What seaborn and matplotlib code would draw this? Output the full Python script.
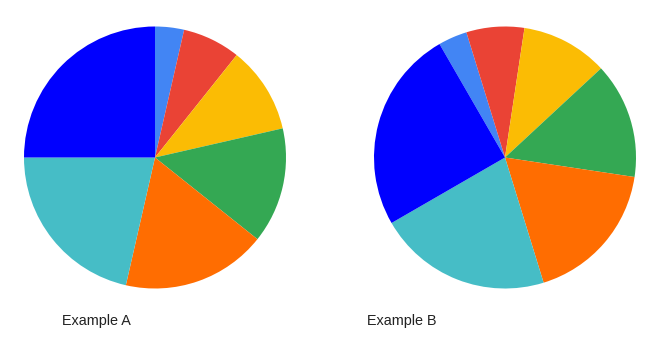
import matplotlib
matplotlib.use("Agg")
import matplotlib.pyplot as plt
import seaborn as sns

sns.set_theme(style="white")
plt.rcParams['font.family'] = ['Liberation Sans', 'DejaVu Sans']

# Data
categories = ["S1", "S2", "S3", "S4", "S5", "S6", "S7"]
values = [1, 2, 3, 4, 5, 6, 7]
colors = ["#4285F4", "#EA4335", "#FBBC04", "#34A853", "#FF6D01", "#46BDC6", "#0000FF"]
titles = ["Example A", "Example B"]
start_angles = [0, -30]  # clockwise from 12 o'clock

W, H = 665, 343
fig = plt.figure(figsize=(W / 100, H / 100), dpi=100)

centers = [(155, 157.5), (505, 157.5)]
r = 131
label_x = [62.5, 367]
label_y = 325

for (cx, cy), title, sa, lx in zip(centers, titles, start_angles, label_x):
    ax = fig.add_axes([(cx - r) / W, (H - cy - r) / H, 2 * r / W, 2 * r / H])
    ax.pie(values, colors=colors, startangle=90 - sa, counterclock=False,
           radius=1, wedgeprops=dict(linewidth=0))
    ax.set_xlim(-1, 1)
    ax.set_ylim(-1, 1)
    ax.axis("off")
    fig.text(lx / W, 1 - label_y / H, title, fontsize=10.4, color="#222222",
             ha="left", va="baseline")

fig.savefig("out.png", dpi=100, facecolor="white")
